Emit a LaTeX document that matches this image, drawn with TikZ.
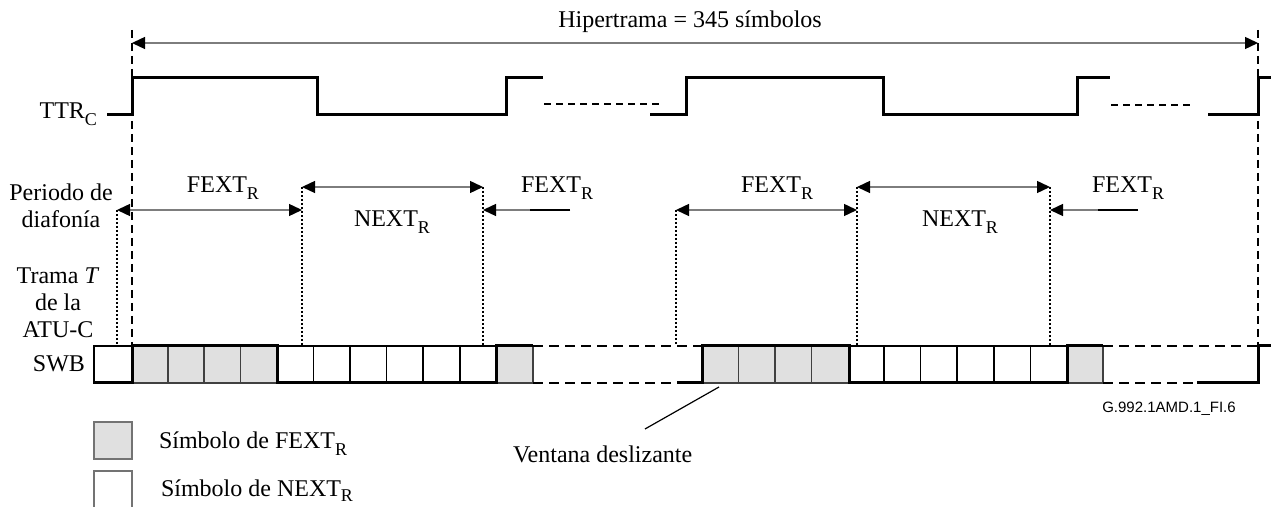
\documentclass[tikz,border=0pt]{standalone}
\usepackage{fontspec}
\setmainfont{Liberation Serif}
\newfontfamily\labelsans{Liberation Sans}
\usetikzlibrary{arrows.meta}
\definecolor{arrowgray}{RGB}{125,125,125}
\definecolor{cellgray}{RGB}{224,224,224}
\newcommand\lowsub[1]{\raisebox{-3.5pt}{\fontsize{9}{10}\selectfont #1}}
\newcommand\lowsubb[1]{\raisebox{-2.5pt}{\fontsize{9}{10}\selectfont #1}}
\begin{document}
\begin{tikzpicture}[x=0.5pt,y=-0.5pt,
  txt/.style={font=\fontsize{12}{13.5}\selectfont, inner sep=0pt, outer sep=0pt},
  wave/.style={line width=1.5pt, line join=miter, line cap=butt},
  brk/.style={line width=1pt, dash pattern=on 3.5pt off 2.5pt},
  framev/.style={line width=1pt, dash pattern=on 4pt off 2.5pt},
  dotv/.style={line width=0.9pt, dash pattern=on 1pt off 1pt},
  dimline/.style={draw=arrowgray, line width=0.7pt},
  tipA/.style={-{Triangle[length=6.5pt,width=6pt,color=black]}},
  tipB/.style={{Triangle[length=6.5pt,width=6pt,color=black]}-{Triangle[length=6.5pt,width=6pt,color=black]}},
  cellw/.style={draw=black, line width=0.6pt, fill=white},
  cellg/.style={draw=black!75, line width=0.6pt, fill=cellgray},
  swbdash/.style={line width=1pt, dash pattern=on 5pt off 3pt}
]
\useasboundingbox (0,0) rectangle (1271,507);

% ---------- Hipertrama ----------
\coordinate (h1) at (132,43);
\coordinate (h2) at (1258,43);
\node[txt, anchor=base] (hiper) at (690,28) {Hipertrama = 345 símbolos};
\draw[dimline, tipB] (h1) -- (h2);
\coordinate (swbtop) at (0,346);
\coordinate (f1) at (132,30);
\coordinate (f2) at (1258,30);
\draw[framev] (f1) -- (f1 |- swbtop);
\draw[framev] (f2) -- (f2 |- swbtop);

% ---------- TTR_C ----------
\node[txt, anchor=base east] (ttr) at (97,119) {TTR\lowsub{C}};
\draw[wave] (107,115) -- (132,115) -- (132,77.7) -- (317.7,77.7) -- (317.7,115) -- (506.7,115) -- (506.7,77.7) -- (543,77.7);
\draw[brk] (544,104) -- (662,104);
\draw[wave] (650,115) -- (686.7,115) -- (686.7,77.7) -- (883,77.7) -- (883,115) -- (1077,115) -- (1077,77.7) -- (1110,77.7);
\draw[brk] (1111,105) -- (1194,105);
\draw[wave] (1208,115) -- (1258,115) -- (1258,77.7) -- (1271,77.7);

% ---------- Periodo de diafonia ----------
\node[txt, anchor=base, align=center] (per) at (61,228) {Periodo de\\diafonía};
\coordinate (p1) at (117,210);
\coordinate (p2) at (302,210);
\coordinate (q1) at (302,187);
\coordinate (q2) at (483,187);
\coordinate (r1) at (483,210);
\coordinate (r1e) at (570,210);
\coordinate (r1m) at (530,210);
\coordinate (p3) at (676,210);
\coordinate (p4) at (857,210);
\coordinate (q3) at (857,187);
\coordinate (q4) at (1050,187);
\coordinate (r2) at (1050,210);
\coordinate (r2e) at (1138,210);
\coordinate (r2m) at (1098,210);

\foreach \c in {p1,q1,q2,p3,q3,q4}{\draw[dotv] (\c) -- (\c |- swbtop);}

\draw[dimline, tipB] (p1) -- (p2);
\draw[dimline, tipB] (q1) -- (q2);
\draw[dimline, tipA] (r1e) -- (r1);
\draw[line width=0.7pt] (r1e) -- (r1m);
\draw[dimline, tipB] (p3) -- (p4);
\draw[dimline, tipB] (q3) -- (q4);
\draw[dimline, tipA] (r2e) -- (r2);
\draw[line width=0.7pt] (r2e) -- (r2m);

\node[txt, anchor=base] (fa) at (223,193) {FEXT\lowsub{R}};
\node[txt, anchor=base] (na) at (392,227) {NEXT\lowsub{R}};
\node[txt, anchor=base] (fb) at (557,193) {FEXT\lowsub{R}};
\node[txt, anchor=base] (fc) at (777,193) {FEXT\lowsub{R}};
\node[txt, anchor=base] (nb) at (960,227) {NEXT\lowsub{R}};
\node[txt, anchor=base] (fd) at (1128,193) {FEXT\lowsub{R}};

% ---------- Trama T ----------
\node[txt, anchor=base, align=center] (trama) at (58,338) {Trama \textit{T}\\de la\\ATU-C};
\node[txt, anchor=base east] (swb) at (85,372) {SWB};

% ---------- SWB cells ----------
\def\ya{346}\def\yb{383}
\foreach \a/\b in {94/132,277/313.5,313.5/350,350/386.5,386.5/423,423/460,460/496.5}{\draw[cellw] (\a,\ya) rectangle (\b,\yb);}
\foreach \a/\b in {132/168,168/204,204/240.5,240.5/277,496.5/533}{\draw[cellg] (\a,\ya) rectangle (\b,\yb);}
\foreach \a/\b in {849/884,884/920.5,920.5/957,957/994,994/1030.5,1030.5/1067}{\draw[cellw] (\a,\ya) rectangle (\b,\yb);}
\foreach \a/\b in {702/738.5,738.5/775,775/811.5,811.5/849,1067/1103}{\draw[cellg] (\a,\ya) rectangle (\b,\yb);}

\draw[wave] (94,\yb) -- (132,\yb) -- (132,\ya) -- (277,\ya) -- (277,\yb) -- (496.5,\yb) -- (496.5,\ya) -- (533,\ya);
\draw[swbdash] (533,\ya) -- (702,\ya);
\draw[swbdash] (533,\yb) -- (677,\yb);
\draw[wave] (677,\yb) -- (702,\yb) -- (702,\ya) -- (849,\ya) -- (849,\yb) -- (1067,\yb) -- (1067,\ya) -- (1103,\ya);
\draw[swbdash] (1103,\ya) -- (1258,\ya);
\draw[swbdash] (1103,\yb) -- (1197,\yb);
\draw[wave] (1197,\yb) -- (1258,\yb) -- (1258,\ya) -- (1271,\ya);

% ---------- Ventana deslizante ----------
\node[txt, anchor=base west] (vent) at (513,463) {Ventana deslizante};
\coordinate (vtip) at (719,387);
\coordinate (vbase) at (645,429);
\draw[line width=0.6pt] (vbase) -- (vtip);

\node[anchor=base, inner sep=0pt, font=\labelsans\fontsize{7.5}{9}\selectfont] (code) at (1169,413) {G.992.1AMD.1\_FI.6};

% ---------- Legend ----------
\draw[cellg, draw=black!55] (94,422) rectangle (132,459);
\node[txt, anchor=base west] (lg1) at (159,449) {Símbolo de FEXT\lowsub{R}};
\draw[line width=0.6pt, draw=black!55] (94,508) -- (94,471) -- (132,471) -- (132,508);
\node[txt, anchor=base west] (lg2) at (161,497) {Símbolo de NEXT\lowsubb{R}};
\end{tikzpicture}
\end{document}
